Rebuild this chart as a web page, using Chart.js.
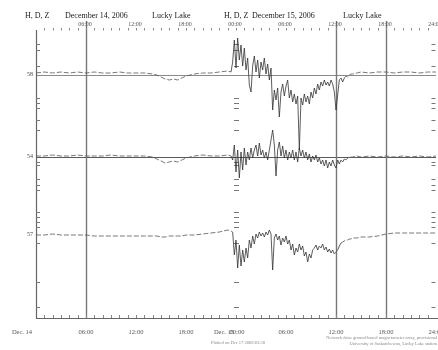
<!DOCTYPE html>
<html>
<head>
<meta charset="utf-8">
<script src="https://cdn.jsdelivr.net/npm/chart.js@4.4.0/dist/chart.umd.min.js"></script>
<style>
html,body{margin:0;padding:0;background:#fff;}
canvas{display:block;}
</style>
</head>
<body>
<canvas id="c" width="438" height="350"></canvas>
<script>
// Time in hours since Dec 14, 2006 00:00
const times = [
  0,1,2,3,4,5,6,7,8,9,10,11,12,13,14,14.5,15,15.5,16,16.5,17,17.5,18,18.5,19,20,21,22,23,23.4,
  23.6,23.8,24,24.2,24.4,24.6,24.8,25,25.2,25.4,
  25.6,25.8,26,26.2,26.4,26.6,26.8,27,27.2,27.4,
  27.6,27.8,28,28.2,28.4,28.6,28.8,29,29.2,29.4,
  29.6,29.8,30,30.2,30.4,30.6,30.8,31,31.2,31.4,
  31.6,31.8,32,32.2,32.4,32.6,32.8,33,33.2,33.4,
  33.6,33.8,34,34.2,34.4,34.6,34.8,35,35.2,35.4,
  35.6,35.8,36,36.2,36.4,36.6,36.8,37,37.2,37.4,
  37.6,37.8,38,
  38.5,39,40,41,42,43,44,45,46,47,48
];
// Deviations from quiet level (relative units)
const hValues = [
  2,3,2,3,2,3,2,3,2,2,3,2,2,2,1,0,-2,-4,-5,-4,-5,-3,-1,0,1,2,2,3,4,3,
  13,35,7,37,15,30,9,27,5,17,
  -10,-17,9,19,3,15,-3,13,5,17,
  1,11,-5,7,-35,-15,-25,-13,-42,-17,
  -9,-21,-11,-5,-23,-15,-27,-19,-29,-21,
  -75,-23,-30,-19,-27,-21,-29,-17,-23,-13,
  -19,-9,-15,-7,-11,-5,-10,-7,-11,-5,
  -9,-17,-35,-20,-5,-3,-7,-3,-1,-2,
  0,1,1,
  2,3,2,3,3,2,3,3,2,3,3
];
const dValues = [
  1,1,2,1,1,2,1,1,1,2,1,1,1,1,0,-2,-4,-6,-5,-4,-5,-3,-1,0,1,2,1,1,2,1,
  -3,12,-15,7,-21,5,-13,9,-8,5,
  -3,9,-1,7,12,1,14,2,7,-1,
  5,-3,7,17,27,12,-19,7,15,1,
  11,-1,7,-3,5,-1,7,-3,5,-5,
  9,1,7,-1,5,-3,3,-5,1,-3,
  2,-5,-1,-7,-3,-9,-3,-11,-5,-9,
  -3,-8,-11,-3,-7,-3,-5,-2,-3,-1,
  -1,0,0,
  1,0,1,0,1,0,1,0,1,0,1
];
const zValues = [
  0,0,1,0,0,0,0,-1,-1,-1,-1,-1,-1,-1,-1,-1,-2,-2,-1,-1,-1,-1,0,0,0,1,2,3,5,4,
  3,-20,-5,-33,-10,-31,-15,-27,-13,-23,
  -5,-13,-1,-9,1,-3,3,-1,2,-2,
  3,0,5,1,-35,-3,1,-5,-1,-10,
  -3,-7,-1,-9,-5,-15,-9,-20,-13,-17,
  -9,-15,-11,-21,-17,-27,-19,-23,-15,-13,
  -10,-15,-11,-13,-9,-15,-12,-17,-14,-18,
  -15,-19,-17,-15,-11,-8,-7,-6,-5,-5,
  -4,-4,-3,
  -3,-2,-2,-1,1,2,2,2,2,2,2
];
const traceNames = ['H','D','Z'];
const traceLevelLabels = ['58','54','57'];
const topTickHours = [6,12,18,24,30,36,42,48];
const topTickLabels = ['06:00','12:00','18:00','00:00','06:00','12:00','18:00','24:00'];
const bottomTickHours = [0,6,12,18,24,30,36,42,48];
const bottomTickLabels = ['Dec. 14','06:00','12:00','18:00','Dec. 15','06:00','12:00','18:00','24:00'];
const markerHours = [6,36,42];
const yTickValues = [113,107,91,59,54,49,37,27,-5,-8,-22,-28,-33,-55,-60,-65,-70,-86,-125,-150];

// layout (not data)
const traceOffsets = [82,0,-78];

const datasets = [hValues,dValues,zValues].map((vals,i)=>({
  label: traceNames[i],
  data: times.map((t,j)=>({x:t, y: vals[j] + traceOffsets[i]})),
  borderColor:'#333',
  borderWidth:0.8,
  pointRadius:0,
  tension:0,
  fill:false,
  segment:{
    borderDash: c => Math.abs(c.p1.parsed.y - c.p0.parsed.y) < 2.5 ? [5,2] : undefined,
    borderColor: c => Math.abs(c.p1.parsed.y - c.p0.parsed.y) < 2.5 ? '#555' : undefined
  }
}));

const SERIF = '"Liberation Serif", "DejaVu Serif", serif';

const decor = {
  id:'decor',
  beforeDatasetsDraw(chart){
    const {ctx, chartArea:a, scales:{x,y}} = chart;
    ctx.save();
    ctx.lineWidth = 1;
    ctx.strokeStyle = '#8a8a8a';
    let py = Math.round(y.getPixelForValue(traceOffsets[0]))+0.5;
    ctx.beginPath(); ctx.moveTo(a.left,py); ctx.lineTo(a.right,py); ctx.stroke();
    ctx.strokeStyle = '#5a5a5a';
    py = Math.round(y.getPixelForValue(traceOffsets[1]))+0.5;
    ctx.beginPath(); ctx.moveTo(a.left,py); ctx.lineTo(a.right,py); ctx.stroke();
    ctx.strokeStyle = '#777';
    ctx.lineWidth = 1.4;
    markerHours.forEach(h=>{
      const px = Math.round(x.getPixelForValue(h))+0.5;
      ctx.beginPath(); ctx.moveTo(px, a.top-7); ctx.lineTo(px, a.bottom); ctx.stroke();
    });
    ctx.strokeStyle = '#666';
    ctx.lineWidth = 1.2;
    ctx.beginPath(); ctx.moveTo(a.left+0.5, a.top+2); ctx.lineTo(a.left+0.5, a.bottom+0.5); ctx.lineTo(a.right+2, a.bottom+0.5); ctx.stroke();
    ctx.lineWidth = 1;
    ctx.strokeStyle = '#777';
    const xMid = Math.round(x.getPixelForValue(24))+0.5;
    const xRight = Math.round(x.getPixelForValue(48))-0.5;
    yTickValues.forEach(v=>{
      const p = Math.round(y.getPixelForValue(v))+0.5;
      ctx.beginPath();
      ctx.moveTo(a.left, p); ctx.lineTo(a.left+4, p);
      ctx.moveTo(xMid-2.5, p); ctx.lineTo(xMid+2.5, p);
      ctx.moveTo(xRight, p); ctx.lineTo(xRight-4, p);
      ctx.stroke();
    });
    ctx.strokeStyle = '#888';
    for (let h=1; h<48; h++){
      const px = Math.round(x.getPixelForValue(h))+0.5;
      ctx.beginPath();
      ctx.moveTo(px, a.top); ctx.lineTo(px, a.top+2.5);
      ctx.moveTo(px, a.bottom); ctx.lineTo(px, a.bottom-3);
      ctx.stroke();
    }
    ctx.restore();
  },
  afterDraw(chart){
    const {ctx, chartArea:a, scales:{x,y}} = chart;
    ctx.save();
    ctx.fillStyle = '#1a1a1a';
    ctx.font = '8px ' + SERIF;
    ctx.textBaseline = 'middle';
    ctx.textAlign = 'left';
    [['H, D, Z',25],['December 14, 2006',65],['Lucky Lake',152],
     ['H, D, Z',224],['December 15, 2006',252],['Lucky Lake',343]].forEach(([t,px])=>{
      ctx.fillText(t, px, 16);
    });
    ctx.fillStyle = '#555';
    ctx.font = '6px ' + SERIF;
    ctx.textAlign = 'center';
    topTickHours.forEach((h,i)=>{
      ctx.fillText(topTickLabels[i], x.getPixelForValue(h)-1, a.top-4);
    });
    ctx.font = '6.5px ' + SERIF;
    bottomTickHours.forEach((h,i)=>{
      let px = x.getPixelForValue(h);
      if (i===0) px -= 14;
      if (i===4) px -= 12;
      ctx.fillText(bottomTickLabels[i], px, a.bottom+14);
    });
    ctx.fillText('00:00', x.getPixelForValue(24)+1, a.bottom+14);
    ctx.fillStyle = '#444';
    ctx.font = '6px ' + SERIF;
    ctx.textAlign = 'right';
    traceOffsets.forEach((o,i)=>{
      ctx.fillText(traceLevelLabels[i], a.left-3, y.getPixelForValue(o)-1);
    });
    ctx.fillStyle = '#888';
    ctx.font = '4.5px ' + SERIF;
    ctx.textAlign = 'center';
    ctx.fillText('Plotted on Dec 17 2006/03:58', 238, 343);
    ctx.textAlign = 'right';
    ctx.fillText('Network data: ground-based magnetometer array, provisional', 437, 338);
    ctx.fillText('University of Saskatchewan, Lucky Lake station', 437, 344);
    ctx.restore();
  }
};

new Chart(document.getElementById('c'), {
  type:'line',
  data:{datasets},
  options:{
    responsive:false,
    animation:false,
    devicePixelRatio:1,
    layout:{padding:{left:36,right:2,top:28,bottom:32}},
    plugins:{legend:{display:false}, tooltip:{enabled:false}, title:{display:false}},
    scales:{
      x:{type:'linear', min:0, max:48, display:false},
      y:{type:'linear', min:-161, max:129, display:false}
    }
  },
  plugins:[decor]
});
</script>
</body>
</html>
